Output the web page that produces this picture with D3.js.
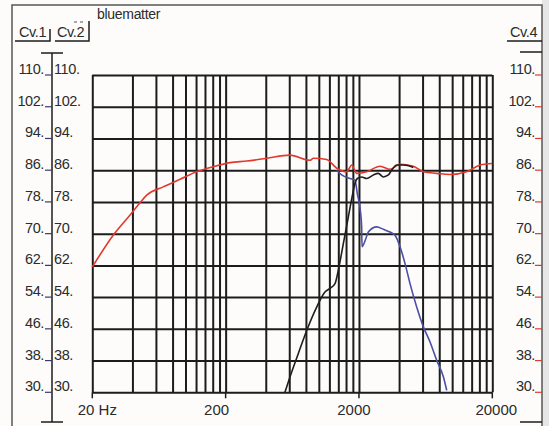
<!DOCTYPE html>
<html>
<head>
<meta charset="utf-8">
<script src="https://cdn.jsdelivr.net/npm/d3@7"></script>
<style>
  body { margin: 0; background: #fff; }
  svg { display: block; font-family: "Liberation Sans", Arial, sans-serif; }
  .grid line { stroke: #1c1c1c; stroke-width: 2; }
  .grid path { display: none; }
</style>
</head>
<body>
<div id="chart"></div>
<script>
// values
const dbTicks = [30, 38, 46, 54, 62, 70, 78, 86, 94, 102, 110]
const freqLabels = [20, 200, 2000, 20000]
const freqLabelText = ['20 Hz', '200', '2000', '20000']
const gridSteps = [1, 2, 3, 4, 5, 6, 7, 8, 9]

// Cv.4 (red)
const redFreq = [20, 28.7, 38.4, 45.6, 51.2, 68, 91, 121, 162, 216, 288, 406, 608, 859, 910, 1146, 1362, 1618, 1766, 1925, 2286, 2878, 3420, 4064, 5117, 6080, 7654, 9636, 12850, 16180, 20000]
const redDb = [61.6, 69.6, 74.7, 77.8, 79.7, 81.8, 83.7, 85.6, 86.9, 87.9, 88.3, 89.0, 89.8, 88.5, 89.0, 88.7, 86.5, 85.6, 87.3, 85.2, 85.6, 87.0, 86.2, 87.5, 87.0, 85.6, 85.2, 84.9, 85.6, 87.3, 87.7]

// Cv.1 (black)
const blackFreq = [557, 608, 702, 811, 964, 1112, 1213, 1322, 1400, 1527, 1664, 1796, 1867, 1944, 2095, 2285, 2563, 2794, 3046, 3321, 3517, 3836, 4306, 5117]
const blackDb = [30, 33.9, 39.8, 45.6, 51.5, 55.3, 56.2, 57.4, 60.8, 67.5, 74.2, 80.1, 82.7, 83.9, 84.3, 83.9, 84.8, 85.2, 84.3, 84.8, 86.0, 87.3, 87.3, 86.7]

// Cv.2 (blue)
const blueFreq = [1362, 1484, 1716, 1867, 1944, 2047, 2095, 2108, 2233, 2350, 2717, 3046, 3420, 3725, 4064, 4428, 4830, 5420, 6080, 6825, 7654, 8590, 9100]
const blueDb = [86.0, 84.8, 83.9, 83.5, 80.1, 75.9, 71.7, 66.7, 68.4, 70.4, 71.7, 71.1, 70.4, 69.6, 66.7, 62.5, 57.4, 51.5, 46.5, 42.7, 38.1, 33.9, 30.5]

const width = 549, height = 426
const plot = { left: 92.3, right: 492.3, top: 75, bottom: 392.3 }
const textColor = '#2b2b2b'
const fontSize = 14.5

const svg = d3.select('#chart').append('svg')
    .attr('width', width)
    .attr('height', height)

svg.append('rect').attr('width', width).attr('height', height).attr('fill', '#fdfcfa')
svg.append('rect').attr('x', 542).attr('width', width - 542).attr('height', height).attr('fill', '#e6e6e6')

// frame
svg.append('path')
    .attr('d', 'M12,426 L12,5 L542,5 L542,426')
    .attr('fill', 'none')
    .attr('stroke', '#555')
    .attr('stroke-width', 1.5)

const x = d3.scaleLog().domain([20, 20000]).range([plot.left, plot.right])
const y = d3.scaleLinear().domain([30, 110]).range([plot.bottom, plot.top])

// grid: 20, 40, ... 200, 400, ... 20000
let gridFreqs = []
for (const base of [20, 200, 2000]) {
    gridSteps.forEach(s => gridFreqs.push(base * s))
}
gridFreqs.push(20000)

svg.append('g')
    .attr('class', 'grid')
    .attr('transform', `translate(0,${plot.bottom})`)
    .call(d3.axisBottom(x).tickValues(gridFreqs).tickSize(-(plot.bottom - plot.top)).tickFormat(''))

svg.append('g')
    .attr('class', 'grid')
    .attr('transform', `translate(${plot.left},0)`)
    .call(d3.axisLeft(y).tickValues(dbTicks).tickSize(-(plot.right - plot.left)).tickFormat(''))

// decade ticks below the axis
svg.selectAll('.dtick')
    .data(freqLabels)
    .join('line')
    .attr('x1', d => x(d)).attr('x2', d => x(d))
    .attr('y1', plot.bottom).attr('y2', plot.bottom + 6)
    .attr('stroke', '#1c1c1c')
    .attr('stroke-width', 1.5)

const labelShift = [5, -9, -5, 4]
svg.selectAll('.flabel')
    .data(freqLabels)
    .join('text')
    .attr('x', (d, i) => x(d) + labelShift[i])
    .attr('y', 415)
    .attr('text-anchor', 'middle')
    .attr('font-size', 15)
    .attr('fill', textColor)
    .text((d, i) => freqLabelText[i])

// curves
const line = d3.line().x(d => x(d[0])).y(d => y(d[1])).curve(d3.curveMonotoneX)
const drawCurve = (freqs, dbs, color) => {
    svg.append('path')
        .datum(d3.zip(freqs, dbs))
        .attr('d', line)
        .attr('fill', 'none')
        .attr('stroke', color)
        .attr('stroke-width', 1.6)
        .attr('stroke-linejoin', 'round')
}
drawCurve(redFreq, redDb, '#e2392e')
drawCurve(blueFreq, blueDb, '#4b4fa6')
drawCurve(blackFreq, blackDb, '#1e1e1e')

// left axes (Cv.1 / Cv.2)
const fmt = d => d + '.'
svg.append('line')
    .attr('x1', 52).attr('x2', 52).attr('y1', 53).attr('y2', 422)
    .attr('stroke', '#1c1c1c').attr('stroke-width', 1.5)
svg.append('line')
    .attr('x1', 41).attr('x2', 63).attr('y1', 53).attr('y2', 53)
    .attr('stroke', '#1c1c1c').attr('stroke-width', 1.5)
svg.append('line')
    .attr('x1', 41).attr('x2', 63).attr('y1', 422).attr('y2', 422)
    .attr('stroke', '#1c1c1c').attr('stroke-width', 1.5)

svg.selectAll('.l1')
    .data(dbTicks)
    .join('text')
    .attr('x', 44).attr('y', d => y(d) - 1)
    .attr('text-anchor', 'end')
    .attr('font-size', fontSize)
    .attr('letter-spacing', -0.4)
    .attr('fill', textColor)
    .text(fmt)
svg.selectAll('.l1tick')
    .data(dbTicks)
    .join('line')
    .attr('x1', 45).attr('x2', 52)
    .attr('y1', d => y(d)).attr('y2', d => y(d))
    .attr('stroke', '#3a3a6a').attr('stroke-width', 1.2)
svg.selectAll('.l2')
    .data(dbTicks)
    .join('text')
    .attr('x', 54).attr('y', d => y(d) - 1)
    .attr('font-size', fontSize)
    .attr('letter-spacing', -0.4)
    .attr('fill', textColor)
    .text(fmt)

// right axis (Cv.4)
svg.selectAll('.r4')
    .data(dbTicks)
    .join('text')
    .attr('x', 535).attr('y', d => y(d) - 1)
    .attr('text-anchor', 'end')
    .attr('font-size', fontSize)
    .attr('letter-spacing', -0.4)
    .attr('fill', textColor)
    .text(fmt)
svg.selectAll('.r4tick')
    .data(dbTicks)
    .join('line')
    .attr('x1', 535).attr('x2', 542)
    .attr('y1', d => y(d)).attr('y2', d => y(d))
    .attr('stroke', '#e2392e').attr('stroke-width', 1.2)
svg.append('line')
    .attr('x1', 520).attr('x2', 542).attr('y1', 52).attr('y2', 52)
    .attr('stroke', '#1c1c1c').attr('stroke-width', 1.5)
svg.append('line')
    .attr('x1', 520).attr('x2', 542).attr('y1', 422).attr('y2', 422)
    .attr('stroke', '#1c1c1c').attr('stroke-width', 1.5)

// curve headers
const header = (label, x0, x1, tx, bracketTop) => {
    svg.append('text')
        .attr('x', tx).attr('y', 37)
        .attr('font-size', fontSize)
        .attr('letter-spacing', -0.4)
        .attr('fill', textColor)
        .text(label)
    svg.append('path')
        .attr('d', bracketTop == null
            ? `M${x0},41 L${x1},41`
            : `M${x0},41 L${x1},41 L${x1},${bracketTop}`)
        .attr('fill', 'none')
        .attr('stroke', '#1c1c1c')
        .attr('stroke-width', 1.5)
}
header('Cv.1', 15, 50, 19, 29)
header('Cv.2', 55, 89, 57, 21)
header('Cv.4', 507, 542, 510, null)
svg.append('line')
    .attr('x1', 74).attr('x2', 86).attr('y1', 22).attr('y2', 22)
    .attr('stroke', '#555').attr('stroke-width', 1)
    .attr('stroke-dasharray', '3,3')

svg.append('text')
    .attr('x', 97).attr('y', 19)
    .attr('font-size', 14)
    .attr('letter-spacing', -0.3)
    .attr('fill', textColor)
    .text('bluematter')
</script>
</body>
</html>
